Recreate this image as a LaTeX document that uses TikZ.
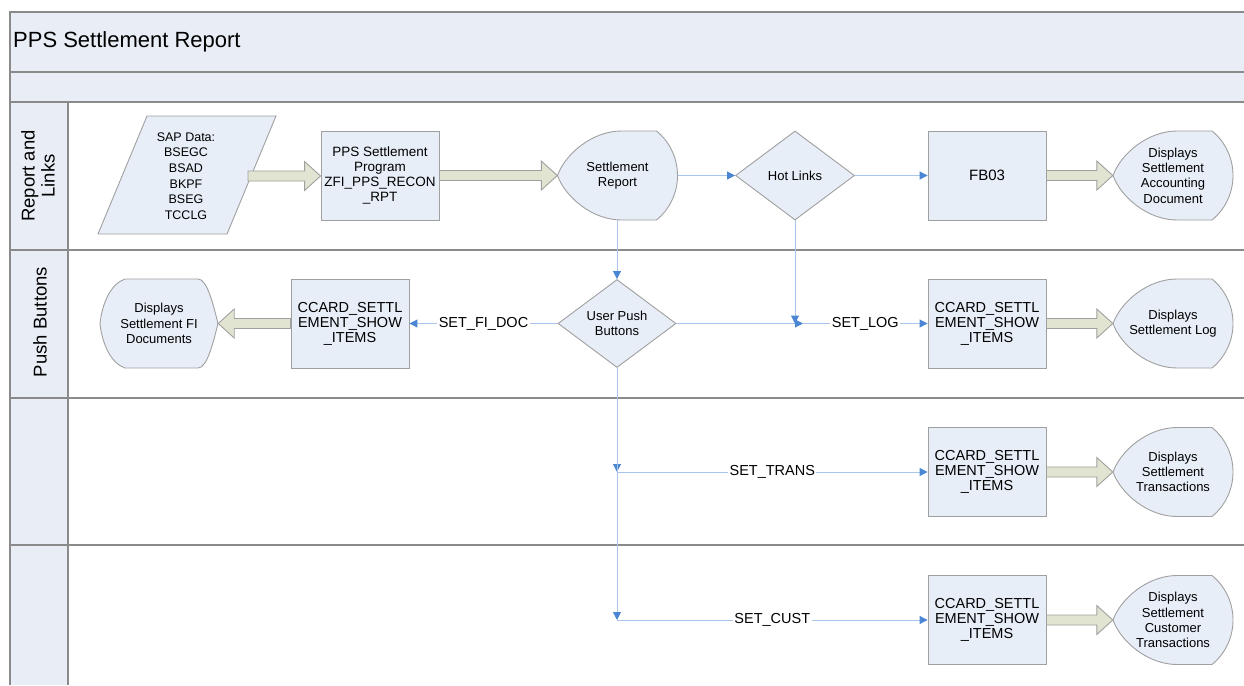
\documentclass[tikz,border=0pt]{standalone}
\usepackage{fontspec}
\setmainfont{Liberation Sans}
\usetikzlibrary{arrows.meta,calc,shapes.geometric}
\definecolor{band}{HTML}{E9EDF5}
\definecolor{nfill}{HTML}{E8EEF8}
\definecolor{nline}{HTML}{A0A0A0}
\definecolor{laneline}{HTML}{8A8A8A}
\definecolor{bafill}{HTML}{E2E4D2}
\definecolor{conline}{HTML}{A9C5EC}
\definecolor{conhead}{HTML}{4A86D3}
\tikzset{
 boxn/.style={draw=nline, fill=nfill, line width=0.9pt, minimum width=118pt, minimum height=89pt, inner sep=0pt, align=center, font=\fontsize{14.5}{15}\selectfont},
 smalltxt/.style={align=center, font=\fontsize{12.5}{15.7}\selectfont, inner sep=0pt},
 diam/.style={diamond, draw=nline, fill=nfill, line width=0.9pt, minimum width=119pt, minimum height=89pt, inner sep=0pt, shape aspect=1.34, align=center, font=\fontsize{13}{15}\selectfont},
 dispfill/.style={draw=nline, fill=nfill, line width=0.9pt},
 dispbox/.style={minimum width=120pt, minimum height=89pt, inner sep=0pt, align=center, font=\fontsize{13}{15.3}\selectfont},
 conn/.style={draw=conline, line width=1pt, -{Triangle[length=8pt,width=8pt,color=conhead]}},
 lbl/.style={fill=white, inner sep=1.5pt, font=\fontsize{14.5}{16}\selectfont},
 barr/.style={draw=nline, fill=bafill, line width=0.9pt},
 lanetxt/.style={rotate=90, align=center, inner sep=0pt, font=\fontsize{18.5}{20}\selectfont},
}
\newcommand\blockarr[2]{%
 \path let \p1=#1, \p2=#2, \n2={\x2-16*sign(\x2-\x1)} in
   [barr] (\x1,\y1+5pt) -- ({\n2*1pt},\y1+5pt) -- ({\n2*1pt},\y1+14.5pt) -- (\x2,\y1)
   -- ({\n2*1pt},\y1-14.5pt) -- ({\n2*1pt},\y1-5pt) -- (\x1,\y1-5pt) -- cycle;}
\newcommand\dispR[4]{%
 \path[dispfill] ({#2-60},{#3}) .. controls ({#2-52},{#3-22}) and ({#2-25},{#3-44.5}) .. ({#2+4},{#3-44.5})
   -- ({#2+39},{#3-44.5}) .. controls ({#2+67},{#3-21.6}) and ({#2+67},{#3+21.6}) .. ({#2+39},{#3+44.5})
   -- ({#2+4},{#3+44.5}) .. controls ({#2-25},{#3+44.5}) and ({#2-52},{#3+22}) .. cycle;
 \node[dispbox] (#1) at (#2,#3) {#4};}
\newcommand\dispL[4]{%
 \path[dispfill] ({#2+59},{#3}) .. controls ({#2+54},{#3-20}) and ({#2+48},{#3-44.5}) .. ({#2+39},{#3-44.5})
   -- ({#2-34},{#3-44.5}) .. controls ({#2-48},{#3-40}) and ({#2-57},{#3-20}) .. ({#2-59},{#3})
   .. controls ({#2-57},{#3+20}) and ({#2-48},{#3+40}) .. ({#2-34},{#3+44.5})
   -- ({#2+39},{#3+44.5}) .. controls ({#2+48},{#3+44.5}) and ({#2+54},{#3+20}) .. cycle;
 \node[dispbox, minimum width=118pt] (#1) at (#2,#3) {#4};}
\begin{document}
\begin{tikzpicture}[x=1pt,y=-1pt]
\useasboundingbox (0,0) rectangle (1244,685);
\fill[white] (0,0) rectangle (1244,685);
% frame
\fill[band] (10,12) rectangle (1244,102);
\fill[band] (10,102) rectangle (68,685);
\draw[laneline, line width=1.2pt] (10,685) -- (10,12) -- (1244,12);
\foreach \yy in {72,102,250,398,545} \draw[laneline, line width=1.2pt] (10,\yy) -- (1244,\yy);
\draw[laneline, line width=1.2pt] (68,102) -- (68,685);
\node[anchor=west, inner sep=0pt, font=\fontsize{22}{26}\selectfont] (title) at (13,42) {PPS Settlement Report};
\node[lanetxt] (lane1) at (38,176) {Report and\\Links};
\node[lanetxt] (lane2) at (40,322) {Push Buttons};
% lane 1
\draw[dispfill] (147,116) -- (276,116) -- (227,234) -- (98,234) -- cycle;
\node[smalltxt] (sap) at (186,176) {SAP Data:\\BSEGC\\BSAD\\BKPF\\BSEG\\TCCLG};
\coordinate (sapR) at (248,176);
\node[boxn, font=\fontsize{13.5}{15}\selectfont] (prog) at (380,175.5) {PPS Settlement\\Program\\ZFI\_PPS\_RECON\\\_RPT};
\dispR{rep}{617.5}{175.5}{Settlement\\Report}
\node[diam] (hot) at (795,175.5) {Hot Links};
\node[boxn, font=\fontsize{15}{16}\selectfont] (fb) at (987,175.5) {FB03};
\dispR{dacc}{1173}{175.5}{Displays\\Settlement\\Accounting\\Document}
% lane 2
\dispL{fidoc}{159}{323.5}{Displays\\Settlement FI\\Documents}
\node[boxn] (box2a) at (350,323.5) {CCARD\_SETTL\\EMENT\_SHOW\\\_ITEMS};
\node[diam, minimum width=118pt, minimum height=88pt] (upb) at (617,323.5) {User Push\\Buttons};
\node[boxn] (box2b) at (987,323.5) {CCARD\_SETTL\\EMENT\_SHOW\\\_ITEMS};
\dispR{dlog}{1173}{323.5}{Displays\\Settlement Log}
% lane 3
\node[boxn] (box3) at (987,472) {CCARD\_SETTL\\EMENT\_SHOW\\\_ITEMS};
\dispR{dtrans}{1173}{472}{Displays\\Settlement\\Transactions}
% lane 4
\node[boxn] (box4) at (987,620) {CCARD\_SETTL\\EMENT\_SHOW\\\_ITEMS};
\dispR{dcust}{1173}{620}{Displays\\Settlement\\Customer\\Transactions}
% block arrows
\blockarr{(sapR)}{(prog.west)}
\blockarr{(prog.east)}{(rep.west)}
\blockarr{(fb.east)}{(dacc.west)}
\blockarr{(box2a.west)}{(fidoc.east)}
\blockarr{(box2b.east)}{(dlog.west)}
\blockarr{(box3.east)}{(dtrans.west)}
\blockarr{(box4.east)}{(dcust.west)}
% connectors
\draw[conn] (rep.east) -- (hot.west);
\draw[conn] (hot.east) -- (fb.west);
\draw[conn] (upb.north |- rep.south) -- (upb.north);
\coordinate (jlog) at (803,323.5);
\draw[conn] (upb.east) -- (jlog);
\draw[conn] (hot.south) -- (hot.south |- jlog);
\draw[conn] (jlog) -- node[lbl] (lsetlog) {SET\_LOG} (box2b.west);
\draw[conn] (upb.west) -- node[lbl] (lsetfi) {SET\_FI\_DOC} (box2a.east);
\coordinate (c3) at (upb.south |- box3.west);
\draw[conn] (upb.south) -- (c3);
\draw[conn] (c3) -- node[lbl] (lsettr) {SET\_TRANS} (box3.west);
\coordinate (c4) at (upb.south |- box4.west);
\draw[conn] (upb.south) -- (c4);
\draw[conn] (c4) -- node[lbl] (lsetcu) {SET\_CUST} (box4.west);
\end{tikzpicture}
\end{document}
